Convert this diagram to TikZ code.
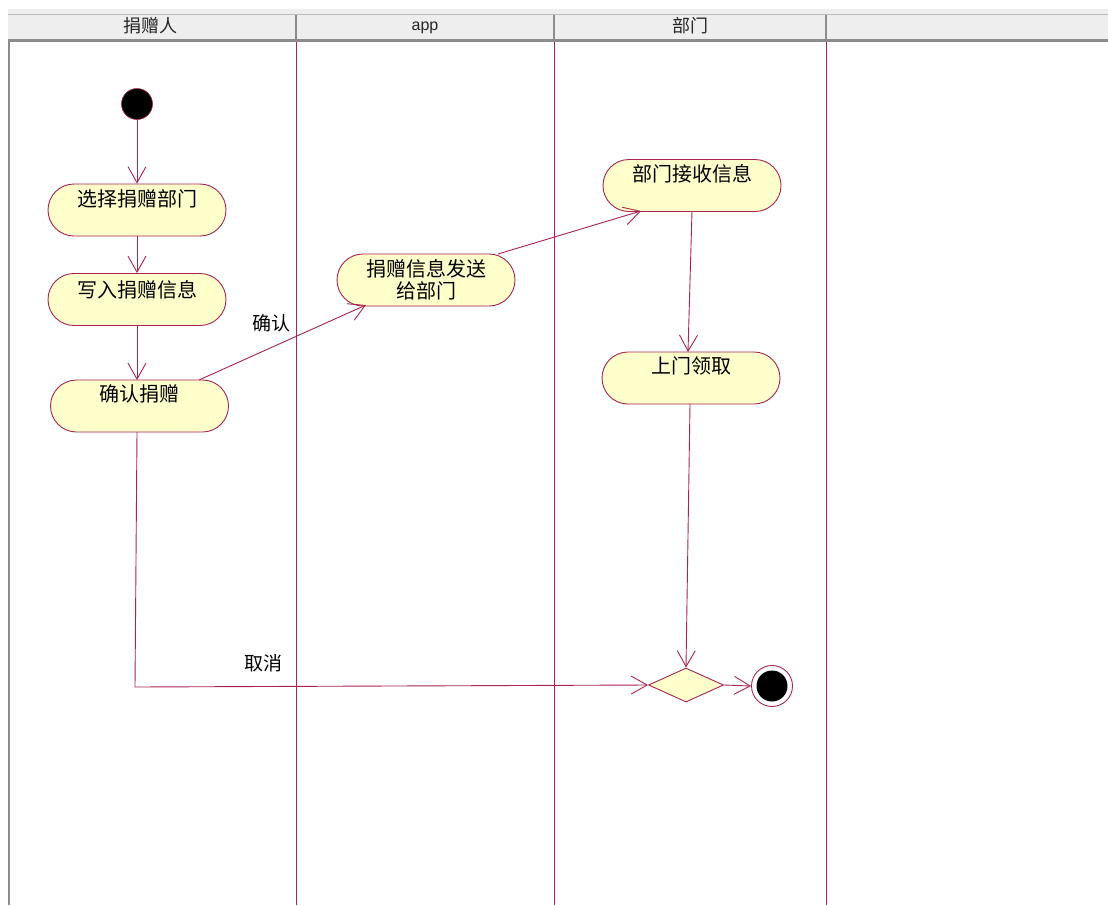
\documentclass[tikz,border=0pt]{standalone}
\usepackage{fontspec}
\newfontfamily\cjk{Noto Sans CJK SC}
\usetikzlibrary{arrows.meta,shapes.geometric}
\definecolor{lc}{RGB}{168,36,82}
\definecolor{fc}{RGB}{255,255,204}
\definecolor{hdr}{RGB}{238,238,238}
\definecolor{hline}{RGB}{140,140,140}
\tikzset{
  act/.style={draw=lc, fill=fc, line width=0.9pt, rounded corners=26pt, minimum width=178pt, minimum height=52pt, inner sep=0pt, align=center, font=\cjk\fontsize{20}{25}\selectfont},
  flow/.style={draw=lc, line width=0.9pt, -{Straight Barb[length=16pt,width=18pt,line width=0.9pt]}},
  lane/.style={draw=lc, line width=0.9pt},
  hd/.style={font=\cjk\fontsize{18}{20}\selectfont, text=black!85},
  lbl/.style={font=\cjk\fontsize{19}{20}\selectfont, text=black}
}
\newcommand{\up}[2]{\raisebox{#1}[\height][\depth]{#2}}
\begin{document}
\begin{tikzpicture}[x=1pt,y=-1pt]
\useasboundingbox (0,0) rectangle (1108,905);
\fill[white] (0,0) rectangle (1108,905);
% header
\fill[hdr] (8,9) rectangle (1108,40);
\draw[hline!60, line width=0.6pt] (8,14) -- (1108,14);
\draw[hline, line width=2.5pt] (8,40.5) -- (1108,40.5);
\draw[hline, line width=2pt] (9,40) -- (9,905);
\foreach \x in {296,554,826} \draw[hline, line width=1.2pt] (\x,15) -- (\x,39);
\node[hd] (h1) at (150,26) {捐赠人};
\node[hd, font=\fontspec{Liberation Sans}\fontsize{16}{18}\selectfont] (h2) at (425,28) {app};
\node[hd] (h3) at (690,26) {部门};
% lanes
\foreach \x in {296,554,826} \draw[lane] (\x,42) -- (\x,905);
% nodes
\node[circle, fill=black, draw=lc, line width=0.6pt, minimum size=31pt, inner sep=0pt] (init) at (137,104) {};
\node[act] (a1) at (137,210) {\up{11pt}{选择捐赠部门}};
\node[act] (a2) at (137,299.5) {\up{10pt}{写入捐赠信息}};
\node[act] (a3) at (139.5,406) {\up{12pt}{确认捐赠}};
\node[act] (a4) at (426,280) {捐赠信息发送\\[-3pt]给部门};
\node[act] (a5) at (692,185.5) {\up{12pt}{部门接收信息}};
\node[act] (a6) at (691,378) {\up{12pt}{上门领取}};
\node[diamond, draw=lc, fill=fc, line width=0.9pt, minimum width=75pt, minimum height=34pt, inner sep=0pt] (dec) at (686,685) {};
\node[circle, draw=lc, fill=white, line width=0.9pt, minimum size=41pt, inner sep=0pt] (fin) at (772,686) {};
\node[circle, fill=black, minimum size=31pt, inner sep=0pt] (finin) at (fin) {};
% labels
\node[lbl] (c1) at (271,323) {确认};
\node[lbl] (c2) at (263,663) {取消};
% flows
\draw[flow] (init.south) -- (a1.north);
\draw[flow] (a1.south) -- (a2.north);
\draw[flow] (a2.south) -- (137,380);
\draw[flow] (199,380) -- (366,305);
\draw[flow] (498,254) -- (641,211);
\draw[flow] (692,211) -- (688,352);
\draw[flow] (690,404) -- (dec.north);
\draw[flow] (137,432) -- (135,687) -- (dec.west);
\draw[flow] (dec.east) -- (fin.west);
\end{tikzpicture}
\end{document}
